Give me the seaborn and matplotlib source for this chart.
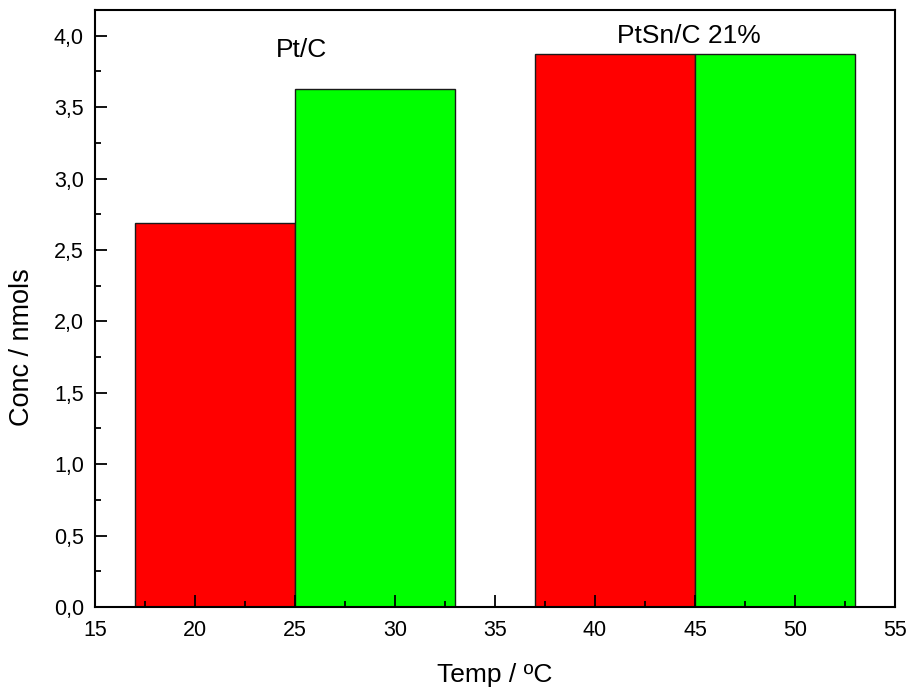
import matplotlib
matplotlib.use("Agg")
import matplotlib.pyplot as plt
from matplotlib.ticker import MultipleLocator, FuncFormatter
import seaborn as sns
import pandas as pd

temps = [21, 29, 41, 49]
conc = [2.69, 3.63, 3.87, 3.87]
group = ["a", "b", "c", "d"]
colors = ["#ff0000", "#00ff00", "#ff0000", "#00ff00"]
labels = ["Pt/C", "PtSn/C 21%"]
label_x = [25.35, 44.7]
label_y = [3.90, 4.00]

sns.set_theme(style="white")
plt.rcParams["font.family"] = ["Liberation Sans", "DejaVu Sans"]

df = pd.DataFrame({"temp": temps, "conc": conc, "group": group})

fig = plt.figure(figsize=(9.1, 6.88), dpi=100)
ax = fig.add_axes([95/910, 1-607/688, 800/910, 597/688])
sns.barplot(data=df, x="temp", y="conc", hue="group", palette=colors,
            native_scale=True, width=1.0, dodge=False, legend=False,
            edgecolor="#1a1a1a", linewidth=1.0, saturation=1, ax=ax, errorbar=None)
ax.set_axisbelow(False)
for art in ax.patches:
    art.set_zorder(1)

ax.set_xlim(15, 55)
ax.set_ylim(0, 4.18)
ax.xaxis.set_major_locator(MultipleLocator(5))
ax.xaxis.set_minor_locator(MultipleLocator(2.5))
ax.yaxis.set_major_locator(MultipleLocator(0.5))
ax.yaxis.set_minor_locator(MultipleLocator(0.25))
ax.yaxis.set_major_formatter(FuncFormatter(lambda v, p: f"{v:.1f}".replace(".", ",")))
ax.xaxis.set_major_formatter(FuncFormatter(lambda v, p: f"{v:.0f}"))
ax.tick_params(which="both", direction="in", top=False, right=False, left=True, bottom=True,
               width=1.3, colors="black", labelsize=15.5)
ax.tick_params(which="major", length=8.5)
ax.tick_params(which="minor", length=4.5)
ax.tick_params(axis="y", which="major", pad=8)
ax.tick_params(axis="x", which="major", pad=9)
for s in ax.spines.values():
    s.set_color("black")
    s.set_linewidth(1.5)
    s.set_zorder(3)

for t, x, y in zip(labels, label_x, label_y):
    ax.text(x, y, t, ha="center", va="center", fontsize=19, color="black")

ax.set_xlabel("Temp / ºC", fontsize=19, labelpad=16, color="black")
ax.set_ylabel("Conc / nmols", fontsize=19.5, color="black")
ax.yaxis.set_label_coords((35 - 95) / 800, (607 - 347) / 597)

fig.savefig("out.png", dpi=100)
